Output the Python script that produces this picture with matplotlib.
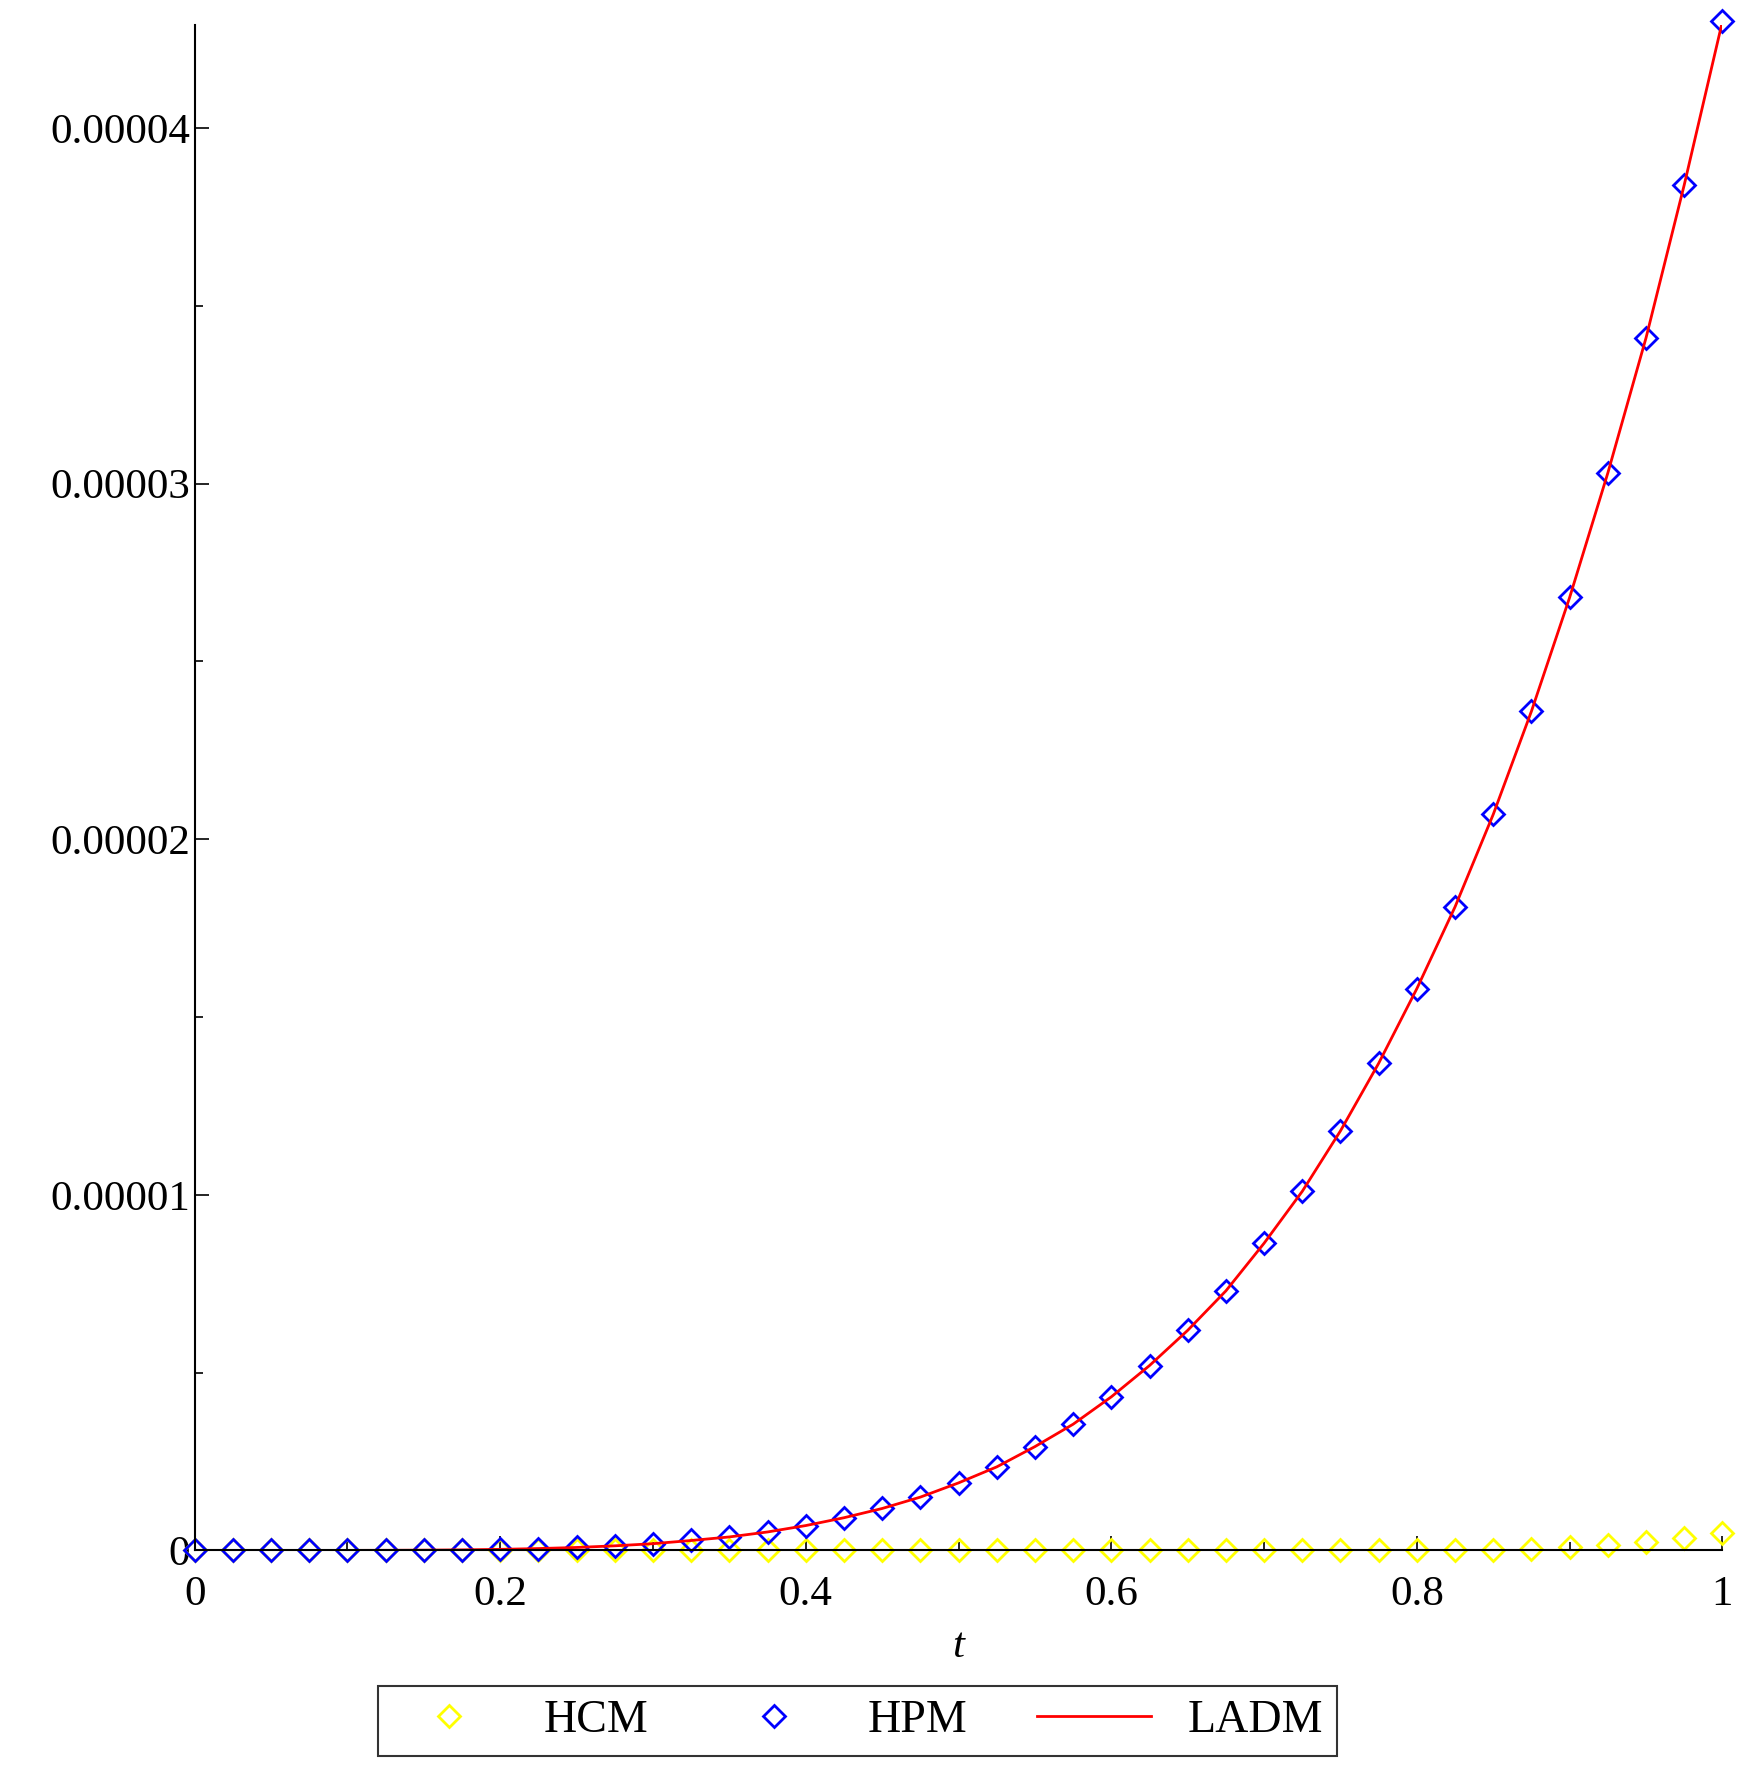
import matplotlib.pyplot as plt
from matplotlib.ticker import MultipleLocator

# values
t = [0, 0.025, 0.05, 0.075, 0.1, 0.125, 0.15, 0.175, 0.2, 0.225, 0.25, 0.275, 0.3, 0.325,
     0.35, 0.375, 0.4, 0.425, 0.45, 0.475, 0.5, 0.525, 0.55, 0.575, 0.6, 0.625, 0.65, 0.675,
     0.7, 0.725, 0.75, 0.775, 0.8, 0.825, 0.85, 0.875, 0.9, 0.925, 0.95, 0.975, 1.0]
hpm = [0, 0, 6e-11, 3e-10, 1.4e-9, 4e-9, 8.4e-9, 1.6e-8, 3.1e-8, 5.3e-8, 8.4e-8, 1.3e-7,
       1.9e-7, 2.8e-7, 3.8e-7, 5.2e-7, 7.0e-7, 9.2e-7, 1.18e-6, 1.5e-6, 1.9e-6, 2.35e-6,
       2.92e-6, 3.55e-6, 4.32e-6, 5.2e-6, 6.19e-6, 7.3e-6, 8.64e-6, 1.01e-5, 1.18e-5, 1.37e-5,
       1.58e-5, 1.81e-5, 2.07e-5, 2.36e-5, 2.68e-5, 3.03e-5, 3.41e-5, 3.84e-5, 4.3e-5]
ladm = hpm
hcm = [0]*33 + [1e-8, 2e-8, 5e-8, 1e-7, 1.6e-7, 2.5e-7, 3.6e-7, 5e-7]

plt.rcParams['font.family'] = ['Liberation Serif', 'DejaVu Serif']
fig = plt.figure(figsize=(17.54, 17.76), dpi=100)
ax = fig.add_axes([0.111, 0.127, 0.871, 0.859])

ax.plot(t, hcm, linestyle='none', marker='D', markersize=11, markerfacecolor='none',
        markeredgecolor='yellow', markeredgewidth=2, label='HCM', clip_on=False)
ax.plot(t, hpm, linestyle='none', marker='D', markersize=11, markerfacecolor='none',
        markeredgecolor='blue', markeredgewidth=2, label='HPM', clip_on=False)
ax.plot(t, ladm, color='red', linewidth=2, label='LADM')

ax.set_xlim(0, 1)
ax.set_ylim(0, 4.29e-5)
ax.spines['top'].set_visible(False)
ax.spines['right'].set_visible(False)
ax.spines['left'].set_linewidth(1.5)
ax.spines['bottom'].set_linewidth(1.5)
ax.xaxis.set_minor_locator(MultipleLocator(0.1))
ax.yaxis.set_minor_locator(MultipleLocator(5e-6))
ax.set_xticks([0, 0.2, 0.4, 0.6, 0.8, 1.0], ['0', '0.2', '0.4', '0.6', '0.8', '1'])
ax.set_yticks([0, 1e-5, 2e-5, 3e-5, 4e-5], ['0', '0.00001', '0.00002', '0.00003', '0.00004'])
ax.tick_params(which='both', direction='in', labelsize=31, width=1.2)
ax.tick_params(which='major', length=10)
ax.tick_params(which='minor', length=6)
ax.tick_params(axis='x', pad=18)
ax.set_xlabel('t', fontsize=31, style='italic', labelpad=10)

leg = fig.legend(loc='center', bbox_to_anchor=(0.489, 0.031), ncol=3, fontsize=33,
                 frameon=True, fancybox=False, edgecolor='black', handlelength=2.5,
                 columnspacing=1.5, borderpad=0.3)
leg.get_frame().set_linewidth(1.5)

fig.savefig('out.png')
